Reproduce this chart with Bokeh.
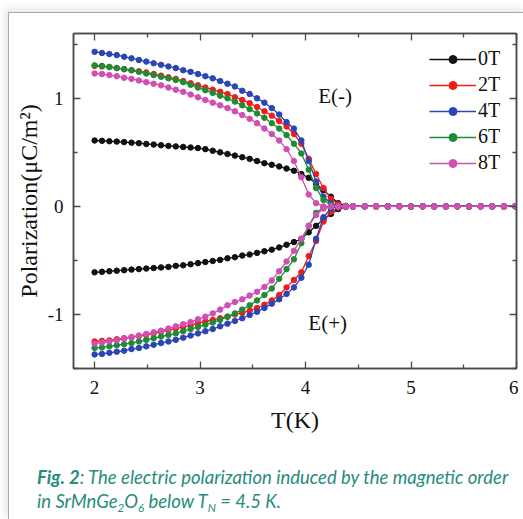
from bokeh.plotting import figure
from bokeh.layouts import column
from bokeh.models import LinearAxis, FixedTicker, Legend, LegendItem, Range1d, Div
from bokeh.embed import file_html
from bokeh.resources import INLINE
from bokeh.core.properties import value

# ---------------- data ----------------
T = [2.00, 2.07, 2.14, 2.21, 2.28, 2.35, 2.42, 2.49, 2.56, 2.63,
     2.70, 2.77, 2.84, 2.91, 2.98, 3.05, 3.12, 3.19, 3.26, 3.33,
     3.40, 3.47, 3.54, 3.61, 3.68, 3.75, 3.82, 3.89, 3.96, 4.03,
     4.10, 4.17, 4.24, 4.31, 4.38, 4.45, 4.56, 4.67, 4.78, 4.89,
     5.00, 5.11, 5.22, 5.33, 5.44, 5.55, 5.66, 5.77, 5.88, 5.99]

labels = ["0T", "2T", "4T", "6T", "8T"]
colors = ["#111111", "#f01c1c", "#2a46b6", "#1f8c34", "#d04fb4"]

# E(-) branch
P_neg_0T = [0.61, 0.607, 0.603, 0.60, 0.595, 0.59, 0.585, 0.578, 0.572, 0.566,
            0.56, 0.555, 0.55, 0.545, 0.54, 0.53, 0.515, 0.50, 0.485, 0.47,
            0.455, 0.44, 0.42, 0.40, 0.385, 0.37, 0.35, 0.33, 0.30, 0.265,
            0.21, 0.15, 0.09, 0.03, 0.005, 0.0, 0.0, 0.0, 0.0, 0.0,
            0.0, 0.0, 0.0, 0.0, 0.0, 0.0, 0.0, 0.0, 0.0, 0.0]
P_neg_2T = [1.30, 1.295, 1.29, 1.28, 1.27, 1.26, 1.25, 1.24, 1.225, 1.21,
            1.195, 1.18, 1.16, 1.14, 1.12, 1.10, 1.08, 1.06, 1.04, 1.01,
            0.985, 0.955, 0.92, 0.88, 0.84, 0.79, 0.74, 0.67, 0.58, 0.44,
            0.30, 0.17, 0.07, 0.02, 0.0, 0.0, 0.0, 0.0, 0.0, 0.0,
            0.0, 0.0, 0.0, 0.0, 0.0, 0.0, 0.0, 0.0, 0.0, 0.0]
P_neg_4T = [1.43, 1.42, 1.41, 1.40, 1.385, 1.37, 1.355, 1.34, 1.325, 1.31,
            1.295, 1.28, 1.26, 1.245, 1.225, 1.205, 1.185, 1.16, 1.135, 1.11,
            1.07, 1.04, 1.00, 0.96, 0.91, 0.85, 0.78, 0.72, 0.61, 0.42,
            0.23, 0.09, 0.03, 0.005, 0.0, 0.0, 0.0, 0.0, 0.0, 0.0,
            0.0, 0.0, 0.0, 0.0, 0.0, 0.0, 0.0, 0.0, 0.0, 0.0]
P_neg_6T = [1.305, 1.30, 1.29, 1.28, 1.27, 1.26, 1.245, 1.23, 1.215, 1.20,
            1.185, 1.17, 1.15, 1.125, 1.10, 1.075, 1.05, 1.025, 1.00, 0.97,
            0.935, 0.90, 0.86, 0.82, 0.77, 0.72, 0.66, 0.58, 0.49, 0.34,
            0.17, 0.06, 0.015, 0.0, 0.0, 0.0, 0.0, 0.0, 0.0, 0.0,
            0.0, 0.0, 0.0, 0.0, 0.0, 0.0, 0.0, 0.0, 0.0, 0.0]
P_neg_8T = [1.23, 1.225, 1.215, 1.205, 1.19, 1.18, 1.165, 1.15, 1.135, 1.12,
            1.10, 1.08, 1.06, 1.035, 1.01, 0.985, 0.96, 0.935, 0.91, 0.88,
            0.845, 0.81, 0.77, 0.72, 0.67, 0.61, 0.53, 0.42, 0.27, 0.11,
            0.03, 0.0, 0.0, 0.0, 0.0, 0.0, 0.0, 0.0, 0.0, 0.0,
            0.0, 0.0, 0.0, 0.0, 0.0, 0.0, 0.0, 0.0, 0.0, 0.0]

# E(+) branch
P_pos_0T = [-0.61, -0.605, -0.60, -0.595, -0.59, -0.585, -0.58, -0.575, -0.57, -0.565,
            -0.56, -0.55, -0.545, -0.535, -0.525, -0.515, -0.505, -0.495, -0.48, -0.47,
            -0.455, -0.445, -0.43, -0.415, -0.40, -0.38, -0.355, -0.33, -0.30, -0.24,
            -0.18, -0.12, -0.07, -0.025, -0.005, 0.0, 0.0, 0.0, 0.0, 0.0,
            0.0, 0.0, 0.0, 0.0, 0.0, 0.0, 0.0, 0.0, 0.0, 0.0]
P_pos_2T = [-1.25, -1.245, -1.24, -1.23, -1.22, -1.21, -1.20, -1.19, -1.175, -1.16,
            -1.145, -1.13, -1.115, -1.10, -1.08, -1.065, -1.05, -1.035, -1.02, -1.00,
            -0.985, -0.965, -0.94, -0.91, -0.87, -0.82, -0.75, -0.68, -0.61, -0.46,
            -0.32, -0.14, -0.05, -0.01, 0.0, 0.0, 0.0, 0.0, 0.0, 0.0,
            0.0, 0.0, 0.0, 0.0, 0.0, 0.0, 0.0, 0.0, 0.0, 0.0]
P_pos_4T = [-1.37, -1.365, -1.355, -1.345, -1.335, -1.32, -1.31, -1.295, -1.28, -1.265,
            -1.25, -1.235, -1.215, -1.195, -1.175, -1.155, -1.135, -1.11, -1.085, -1.06,
            -1.035, -1.005, -0.975, -0.94, -0.90, -0.86, -0.81, -0.75, -0.66, -0.54,
            -0.30, -0.10, -0.02, 0.0, 0.0, 0.0, 0.0, 0.0, 0.0, 0.0,
            0.0, 0.0, 0.0, 0.0, 0.0, 0.0, 0.0, 0.0, 0.0, 0.0]
P_pos_6T = [-1.31, -1.305, -1.295, -1.285, -1.275, -1.265, -1.25, -1.235, -1.22, -1.205,
            -1.19, -1.175, -1.155, -1.135, -1.115, -1.095, -1.075, -1.05, -1.02, -0.99,
            -0.955, -0.915, -0.87, -0.82, -0.76, -0.67, -0.58, -0.49, -0.34, -0.18,
            -0.06, -0.01, 0.0, 0.0, 0.0, 0.0, 0.0, 0.0, 0.0, 0.0,
            0.0, 0.0, 0.0, 0.0, 0.0, 0.0, 0.0, 0.0, 0.0, 0.0]
P_pos_8T = [-1.27, -1.26, -1.25, -1.24, -1.225, -1.21, -1.195, -1.18, -1.165, -1.15,
            -1.13, -1.11, -1.09, -1.07, -1.045, -1.02, -0.99, -0.955, -0.915, -0.885,
            -0.86, -0.825, -0.79, -0.745, -0.685, -0.60, -0.51, -0.41, -0.30, -0.18,
            -0.08, -0.02, 0.0, 0.0, 0.0, 0.0, 0.0, 0.0, 0.0, 0.0,
            0.0, 0.0, 0.0, 0.0, 0.0, 0.0, 0.0, 0.0, 0.0, 0.0]

x_ticks = [2, 3, 4, 5, 6]
x_minor = [2.5, 3.5, 4.5, 5.5]
y_ticks = [-1, 0, 1]
y_minor = [-1.5, -0.5, 0.5, 1.5]
y_tick_labels = {-1: "-1", 0: "0", 1: "1"}

neg_series = [P_neg_0T, P_neg_2T, P_neg_4T, P_neg_6T, P_neg_8T]
pos_series = [P_pos_0T, P_pos_2T, P_pos_4T, P_pos_6T, P_pos_8T]

SERIF = "Liberation Serif"
CAP_FONT = "Lato"
CAP_COLOR = "#278c7c"
AX_COLOR = "#4a4a4a"

# ---------------- figure ----------------
p = figure(width=509, height=432, output_backend="svg", toolbar_location=None,
           x_range=Range1d(1.8, 6.0), y_range=Range1d(-1.5, 1.6),
           min_border_left=64, min_border_right=2, min_border_top=20,
           min_border_bottom=77)
p.background_fill_color = "white"
p.border_fill_color = "white"
p.outline_line_color = AX_COLOR
p.outline_line_width = 1.5
p.xgrid.visible = False
p.ygrid.visible = False

def style_axis(ax):
    ax.axis_line_color = AX_COLOR
    ax.axis_line_width = 1.5
    ax.major_tick_line_color = AX_COLOR
    ax.minor_tick_line_color = AX_COLOR
    ax.major_tick_line_width = 1.3
    ax.minor_tick_line_width = 1.3
    ax.major_tick_in = 7
    ax.major_tick_out = 0
    ax.minor_tick_in = 4
    ax.minor_tick_out = 0

xticker = FixedTicker(ticks=x_ticks, minor_ticks=x_minor)
yticker = FixedTicker(ticks=y_ticks, minor_ticks=y_minor)

xa = p.xaxis[0]
xa.ticker = xticker
style_axis(xa)
xa.major_label_text_font = SERIF
xa.major_label_text_font_size = "19px"
xa.major_label_text_color = "#111111"
xa.major_label_standoff = 12
xa.axis_label = "T(K)"
xa.axis_label_text_font = SERIF
xa.axis_label_text_font_size = "24px"
xa.axis_label_text_font_style = "normal"
xa.axis_label_text_color = "#111111"
xa.axis_label_standoff = 10

ya = p.yaxis[0]
ya.ticker = yticker
style_axis(ya)
ya.major_label_overrides = y_tick_labels
ya.major_label_text_font = SERIF
ya.major_label_text_font_size = "19px"
ya.major_label_text_color = "#111111"
ya.major_label_standoff = 10
ya.axis_label = "Polarization(\u03bcC/m\u00b2)"
ya.axis_label_text_font = SERIF
ya.axis_label_text_font_size = "24px"
ya.axis_label_text_font_style = "normal"
ya.axis_label_text_color = "#111111"
ya.axis_label_standoff = 3

# mirrored tick-only axes on top and right
top = LinearAxis(ticker=xticker, major_label_overrides={t: "" for t in x_ticks},
                 major_label_standoff=0)
style_axis(top)
p.add_layout(top, "above")
right = LinearAxis(ticker=yticker, major_label_overrides={t: "" for t in y_ticks},
                   major_label_standoff=0)
style_axis(right)
p.add_layout(right, "right")

items = []
for lab, col, neg, pos in zip(labels, colors, neg_series, pos_series):
    ln = p.line(T, neg, line_color=col, line_width=1.3)
    sn = p.scatter(T, neg, size=5.5, fill_color=col, line_color=col)
    p.line(T, pos, line_color=col, line_width=1.3)
    p.scatter(T, pos, size=5.5, fill_color=col, line_color=col)
    items.append(LegendItem(label=lab, renderers=[ln, sn]))

legend = Legend(items=items, location=(356, 194), border_line_color=None,
                background_fill_alpha=0, padding=0, margin=0, spacing=3,
                glyph_width=47, glyph_height=20, label_standoff=2,
                label_text_font=SERIF, label_text_font_size="20px",
                label_text_color="#111111")
p.add_layout(legend)

p.text(x=[4.28, 4.21], y=[1.02, -1.08], text=["E(-)", "E(+)"],
       text_font=value(SERIF), text_font_size="21px", text_color="#111111",
       text_align="center", text_baseline="middle")

# ---------------- caption ----------------
sub = "font-size:11.5px; line-height:0; vertical-align:-4px;"
caption_html = (
    f'<div style="position:relative; left:23px; top:15px; font-family:{CAP_FONT}; '
    f'font-style:italic; font-size:18.5px; line-height:24px; color:{CAP_COLOR}; '
    'white-space:nowrap; text-align:left;">'
    '<b>Fig.&nbsp;2</b>: The electric polarization induced by the magnetic order<br>'
    f'in SrMnGe<sub style="{sub}">2</sub>O<sub style="{sub}">6</sub> below '
    f'T<sub style="{sub}">N</sub> = 4.5 K.</div>'
)
caption = Div(text=caption_html, width=509, height=64)

layout = column(p, caption, spacing=0,
                styles={"border-left": "1px solid #a8a8a8",
                        "border-top": "1px solid #a8a8a8",
                        "margin-top": "12px", "margin-left": "8px",
                        "box-shadow": "-3px -3px 8px rgba(0,0,0,0.10)"})

open("out.html", "w").write(file_html(layout, INLINE))
